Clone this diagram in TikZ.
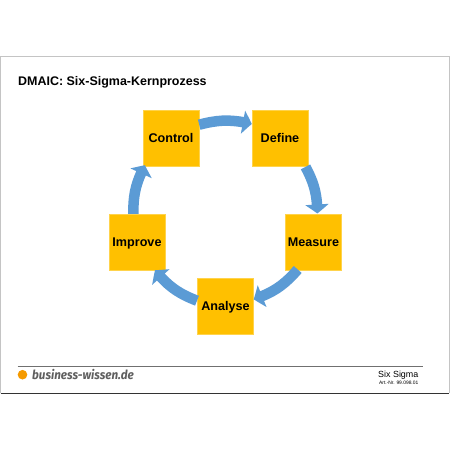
\documentclass[tikz,border=0pt]{standalone}
\usepackage{fontspec}
\setmainfont{Liberation Sans}
\newfontfamily\logofont{Fira Sans}
\usetikzlibrary{arrows.meta,bending}
\definecolor{boxfill}{HTML}{FFC000}
\definecolor{flowblue}{HTML}{5B9BD5}
\definecolor{framegrey}{HTML}{C4C4C4}
\definecolor{framedark}{HTML}{333333}
\definecolor{rulegrey}{HTML}{707070}
\definecolor{logogrey}{HTML}{5F5F5F}
\definecolor{dotorange}{HTML}{F59A00}
\tikzset{
  stagebox/.style={fill=boxfill,draw=boxfill!70!white,line width=0.4pt,minimum width=56pt,minimum height=56pt,inner sep=0pt,text height=9pt,text depth=0pt,font=\bfseries\fontsize{12.6}{14}\selectfont,text=black},
  flowarrow/.style={draw=flowblue,line width=10.5pt,-{Triangle[width=23pt,length=9pt,bend]}},
  plaintext/.style={inner sep=0pt,text=black}
}
\begin{document}
\begin{tikzpicture}[x=1pt,y=-1pt]
\useasboundingbox (0,0) rectangle (450,450);
\fill[white] (0,0) rectangle (450,450);
% page frame
\draw[framegrey,line width=0.9pt] (0.6,393) -- (0.6,56.5) -- (449.4,56.5) -- (449.4,393);
\draw[framedark,line width=0.9pt] (0.6,393) -- (449.4,393);
% title
\node[plaintext,anchor=base west,font=\bfseries\fontsize{12.47}{14}\selectfont] (title) at (18,85.3) {DMAIC: Six-Sigma-Kernprozess};
% stages
\node[stagebox] (control) at (171,138) {Control};
\node[stagebox] (define) at (280,138) {Define};
\node[stagebox] (measure) at (313.5,242) {Measure};
\node[stagebox] (analyse) at (225.5,306) {Analyse};
\node[stagebox] (improve) at (137,242) {Improve};
% flow
\draw[flowarrow] ([yshift=13.3pt]control.east) to[bend left=14] ([yshift=14pt]define.west);
\draw[flowarrow] ([xshift=25.5pt,yshift=-0.7pt]define.south) to[bend left=14] ([xshift=3.8pt,yshift=0.3pt]measure.north);
\draw[flowarrow] ([xshift=-15.8pt,yshift=0.7pt]measure.south) to[bend left=15] ([yshift=6.7pt]analyse.east);
\draw[flowarrow] ([xshift=-0.3pt,yshift=5.3pt]analyse.west) to[bend left=15] ([xshift=18pt]improve.south);
\draw[flowarrow] ([xshift=-3.7pt]improve.north) to[bend left=14] ([xshift=-26pt,yshift=1pt]control.south);
% footer
\draw[rulegrey,line width=0.7pt] (17.5,366) -- (423,366);
\fill[dotorange] (22.5,374.7) circle (4.8);
\node[plaintext,anchor=base west,text=logogrey,font=\logofont\bfseries\itshape\fontsize{12.6}{14}\selectfont] (logo) at (32,379) {\scalebox{0.925}[1]{business-wissen.de}};
\node[plaintext,anchor=base east,font=\fontsize{8.9}{10}\selectfont] (topic) at (418.5,377) {Six Sigma};
\node[plaintext,anchor=base east,font=\fontsize{4.9}{6}\selectfont] (artnr) at (418.5,384) {Art.-Nr. 99.098.01};
\end{tikzpicture}
\end{document}
